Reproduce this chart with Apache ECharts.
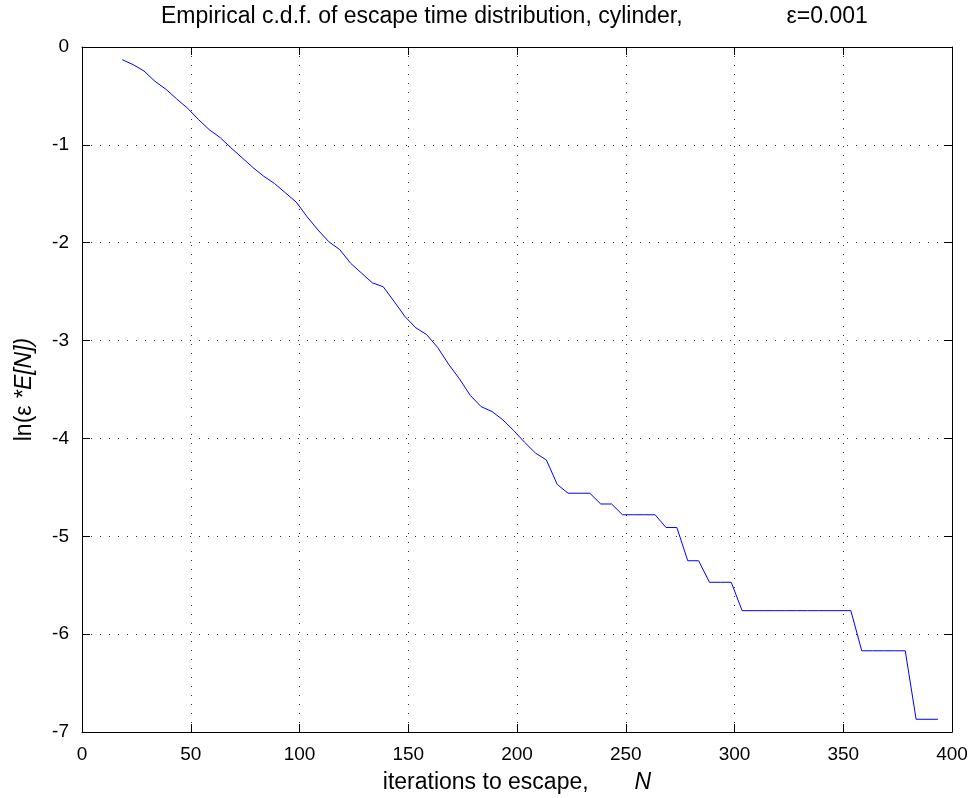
<!DOCTYPE html>
<html>
<head>
<meta charset="utf-8">
<script src="https://cdn.jsdelivr.net/npm/echarts@6/dist/echarts.min.js"></script>
<style>
  html, body { margin: 0; padding: 0; background: #fff; }
  #chart { width: 969px; height: 798px; }
</style>
</head>
<body>
<div id="chart"></div>
<script>
// Escape-time samples: N (iterations) and ln(eps * E[N])
const iterations = [
  18.5, 23.5, 28.5, 33.5, 38.5, 43.5, 48.5, 53.5, 58.5, 63.5,
  68.5, 73.5, 78.5, 83.5, 88.5, 93.5, 98.5, 103.5, 108.5, 113.5,
  118.5, 123.5, 128.5, 133.5, 138.5, 143.5, 148.5, 153.5, 158.5, 163.5,
  168.5, 173.5, 178.5, 183.5, 188.5, 193.5, 198.5, 203.5, 208.5, 213.5,
  218.5, 223.5, 228.5, 233.5, 238.5, 243.5, 248.5, 253.5, 258.5, 263.5,
  268.5, 273.5, 278.5, 283.5, 288.5, 293.5, 298.5, 303.5, 308.5, 313.5,
  318.5, 323.5, 328.5, 333.5, 338.5, 343.5, 348.5, 353.5, 358.5, 363.5,
  368.5, 373.5, 378.5, 383.5, 388.5, 393.5
];
const lnValues = [
  -0.13, -0.18, -0.245, -0.35, -0.43, -0.53, -0.625, -0.74, -0.845, -0.925,
  -1.03, -1.13, -1.23, -1.32, -1.395, -1.49, -1.585, -1.735, -1.87, -1.99,
  -2.07, -2.21, -2.31, -2.41, -2.45, -2.6, -2.755, -2.87, -2.94, -3.07,
  -3.24, -3.39, -3.56, -3.675, -3.725, -3.81, -3.92, -4.04, -4.15, -4.22,
  -4.47, -4.56, -4.56, -4.56, -4.67, -4.67, -4.78, -4.78, -4.78, -4.78,
  -4.91, -4.91, -5.25, -5.25, -5.47, -5.47, -5.47, -5.76, -5.76, -5.76,
  -5.76, -5.76, -5.76, -5.76, -5.76, -5.76, -5.76, -5.76, -6.17, -6.17,
  -6.17, -6.17, -6.17, -6.87, -6.87, -6.87
];
const xTicks = [0, 50, 100, 150, 200, 250, 300, 350, 400];
const yTicks = [-7, -6, -5, -4, -3, -2, -1, 0];

const FONT = 'Liberation Sans, Arial, sans-serif';
const chart = echarts.init(document.getElementById('chart'), null, { renderer: 'canvas' });

const gridLine = { show: true, lineStyle: { color: '#333', width: 1, type: [1, 8] } };
const axisLine = { show: true, onZero: false, lineStyle: { color: '#000', width: 1 } };
const tick = { show: true, inside: true, length: 8, lineStyle: { color: '#000' } };

const baseX = {
  type: 'value', min: xTicks[0], max: xTicks[xTicks.length - 1], interval: 50,
  axisLine, axisTick: tick
};
const baseY = {
  type: 'value', min: yTicks[0], max: yTicks[yTicks.length - 1], interval: 1,
  axisLine, axisTick: tick
};

chart.setOption({
  animation: false,
  backgroundColor: '#fff',
  title: {
    text: '{a|Empirical c.d.f. of escape time distribution, cylinder,}{b|ε=0.001}',
    left: 161,
    top: 5,
    padding: 0,
    textStyle: {
      rich: {
        a: { fontFamily: FONT, fontSize: 23, fontWeight: 'normal', color: '#000' },
        b: { fontFamily: FONT, fontSize: 23, fontWeight: 'normal', color: '#000', padding: [0, 0, 0, 104] }
      }
    }
  },
  grid: {
    left: 82, right: 17, top: 47, bottom: 66,
    containLabel: false,
    outerBoundsMode: 'none'
  },
  xAxis: [
    Object.assign({}, baseX, {
      position: 'bottom',
      splitLine: gridLine,
      axisLabel: { show: true, fontFamily: FONT, fontSize: 19, color: '#000', margin: 13 },
      name: '{t|iterations to escape,}{i|N}',
      nameLocation: 'middle',
      nameGap: 39,
      nameTextStyle: {
        rich: {
          t: { fontFamily: FONT, fontSize: 23, color: '#000' },
          i: { fontFamily: FONT, fontSize: 23, color: '#000', fontStyle: 'italic', padding: [0, 0, 0, 46] }
        }
      }
    }),
    Object.assign({}, baseX, { position: 'top', splitLine: { show: false }, axisLabel: { show: false } })
  ],
  yAxis: [
    Object.assign({}, baseY, {
      position: 'left',
      splitLine: gridLine,
      axisLabel: { show: true, fontFamily: FONT, fontSize: 19, color: '#000', margin: 13 },
      name: '{t|ln(ε }{i|*E[N])}',
      nameLocation: 'middle',
      nameGap: 46,
      nameRotate: 90,
      nameTextStyle: {
        rich: {
          t: { fontFamily: FONT, fontSize: 23, color: '#000' },
          i: { fontFamily: FONT, fontSize: 23, color: '#000', fontStyle: 'italic' }
        }
      }
    }),
    Object.assign({}, baseY, { position: 'right', splitLine: { show: false }, axisLabel: { show: false } })
  ],
  series: [{
    type: 'line',
    xAxisIndex: 0,
    yAxisIndex: 0,
    data: iterations.map((n, i) => [n, lnValues[i]]),
    showSymbol: false,
    symbol: 'none',
    lineStyle: { color: '#0000ff', width: 1 }
  }]
});
</script>
</body>
</html>
